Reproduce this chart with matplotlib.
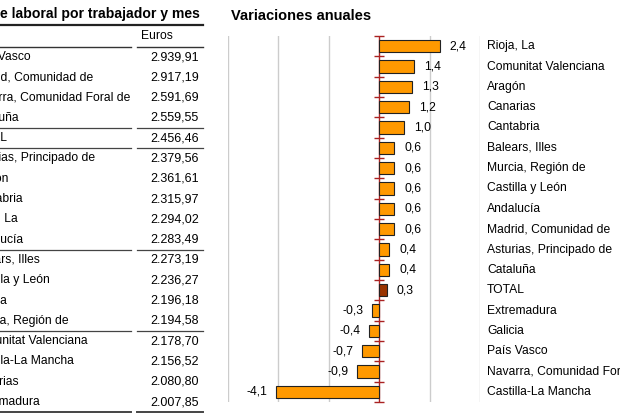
import numpy as np
import matplotlib
matplotlib.use("Agg")
import matplotlib.pyplot as plt
from matplotlib.lines import Line2D

plt.rcParams['font.family'] = ['Liberation Sans', 'DejaVu Sans']

# Table data (left): coste laboral por trabajador y mes
table_labels = ["País Vasco", "Madrid, Comunidad de", "Navarra, Comunidad Foral de", "Cataluña",
                "TOTAL", "Asturias, Principado de", "Aragón", "Cantabria", "Rioja, La", "Andalucía",
                "Balears, Illes", "Castilla y León", "Galicia", "Murcia, Región de",
                "Comunitat Valenciana", "Castilla-La Mancha", "Canarias", "Extremadura"]
table_euros = [2939.91, 2917.19, 2591.69, 2559.55, 2456.46, 2379.56, 2361.61, 2315.97, 2294.02,
               2283.49, 2273.19, 2236.27, 2196.18, 2194.58, 2178.70, 2156.52, 2080.80, 2007.85]
separator_after = [3, 4, 9, 13]

# Bar chart data (right): variaciones anuales
bar_labels = ["Rioja, La", "Comunitat Valenciana", "Aragón", "Canarias", "Cantabria",
              "Balears, Illes", "Murcia, Región de", "Castilla y León", "Andalucía",
              "Madrid, Comunidad de", "Asturias, Principado de", "Cataluña", "TOTAL",
              "Extremadura", "Galicia", "País Vasco", "Navarra, Comunidad Foral de",
              "Castilla-La Mancha"]
bar_values = [2.4, 1.4, 1.3, 1.2, 1.0, 0.6, 0.6, 0.6, 0.6, 0.6, 0.4, 0.4, 0.3,
              -0.3, -0.4, -0.7, -0.9, -4.1]
x_ticks = [-6, -4, -2, 0, 2, 4]

W, H = 620, 420
fig = plt.figure(figsize=(W / 100, H / 100), dpi=100)


def fx(x):
    return x / W


def fy(y):
    return 1 - y / H


def fmt_es(v):
    s = f"{v:,.2f}"
    return s.replace(",", "X").replace(".", ",").replace("X", ".")


def hline(x0, x1, y, lw=1.0, color="#333333"):
    fig.add_artist(Line2D([fx(x0), fx(x1)], [fy(y), fy(y)], transform=fig.transFigure,
                          lw=lw, color=color))


FS = 8.7

# ---- table ----
fig.text(fx(-31), fy(14), "Coste laboral por trabajador y mes", fontsize=10.1,
         fontweight="bold", va="center", ha="left")
hline(-5, 203, 24.5, lw=1.6, color="#222222")
fig.text(fx(141), fy(36), "Euros", fontsize=FS, va="center", ha="left")
hline(-5, 131, 46.5, lw=1.0)
hline(137, 203, 46.5, lw=1.0)

row_h = 20.3
y0 = 57
for i, (lab, val) in enumerate(zip(table_labels, table_euros)):
    y = y0 + i * row_h
    fig.text(fx(-30), fy(y), lab, fontsize=FS, va="center", ha="left")
    fig.text(fx(199), fy(y), fmt_es(val), fontsize=9.0, va="center", ha="right")
for i in separator_after:
    y = y0 + (i + 0.5) * row_h
    hline(-5, 131, y, lw=0.9, color="#444444")
    hline(137, 203, y, lw=0.9, color="#444444")
hline(-5, 131, y0 + 17.5 * row_h, lw=1.4, color="#444444")
hline(137, 203, y0 + 17.5 * row_h, lw=1.4, color="#444444")

# ---- bar chart ----
fig.text(fx(231), fy(16), "Variaciones anuales", fontsize=10.5, fontweight="bold",
         va="center", ha="left")

ax = fig.add_axes([fx(228), fy(402), fx(480 - 228), (402 - 36) / H])
n = len(bar_values)
ypos = np.arange(n)
colors = ["#993300" if lab == "TOTAL" else "#FF9900" for lab in bar_labels]
ax.barh(ypos, bar_values, height=0.6, color=colors, edgecolor="#222222", linewidth=0.8,
        zorder=3)
ax.set_xlim(-6, 4)
ax.set_ylim(n - 0.5, -0.5)
for xt in x_ticks:
    if xt != 0:
        ax.axvline(xt, color="#cccccc", lw=1.0, zorder=0)
ax.axvline(0, color="#aa2222", lw=1.0, zorder=2)
ax.plot(np.zeros(n + 1), np.arange(n + 1) - 0.5, ls="none", marker="_", ms=7,
        mew=1.0, color="#aa2222", zorder=2, clip_on=False)
for s in ax.spines.values():
    s.set_visible(False)
ax.set_xticks([])
ax.set_yticks([])
ax.patch.set_alpha(0)

for yi, v, lab in zip(ypos, bar_values, bar_labels):
    txt = f"{v:.1f}".replace(".", ",")
    if v >= 0:
        ax.annotate(txt, (v, yi), xytext=(7, 0), textcoords="offset points",
                    ha="left", va="center", fontsize=FS)
    else:
        ax.annotate(txt, (v, yi), xytext=(-6, 0), textcoords="offset points",
                    ha="right", va="center", fontsize=FS)
    ax.annotate(lab, (1.0, yi), xycoords=("axes fraction", "data"), xytext=(7, 0),
                textcoords="offset pixels", ha="left", va="center", fontsize=FS,
                annotation_clip=False)

fig.savefig("out.png", dpi=100)
